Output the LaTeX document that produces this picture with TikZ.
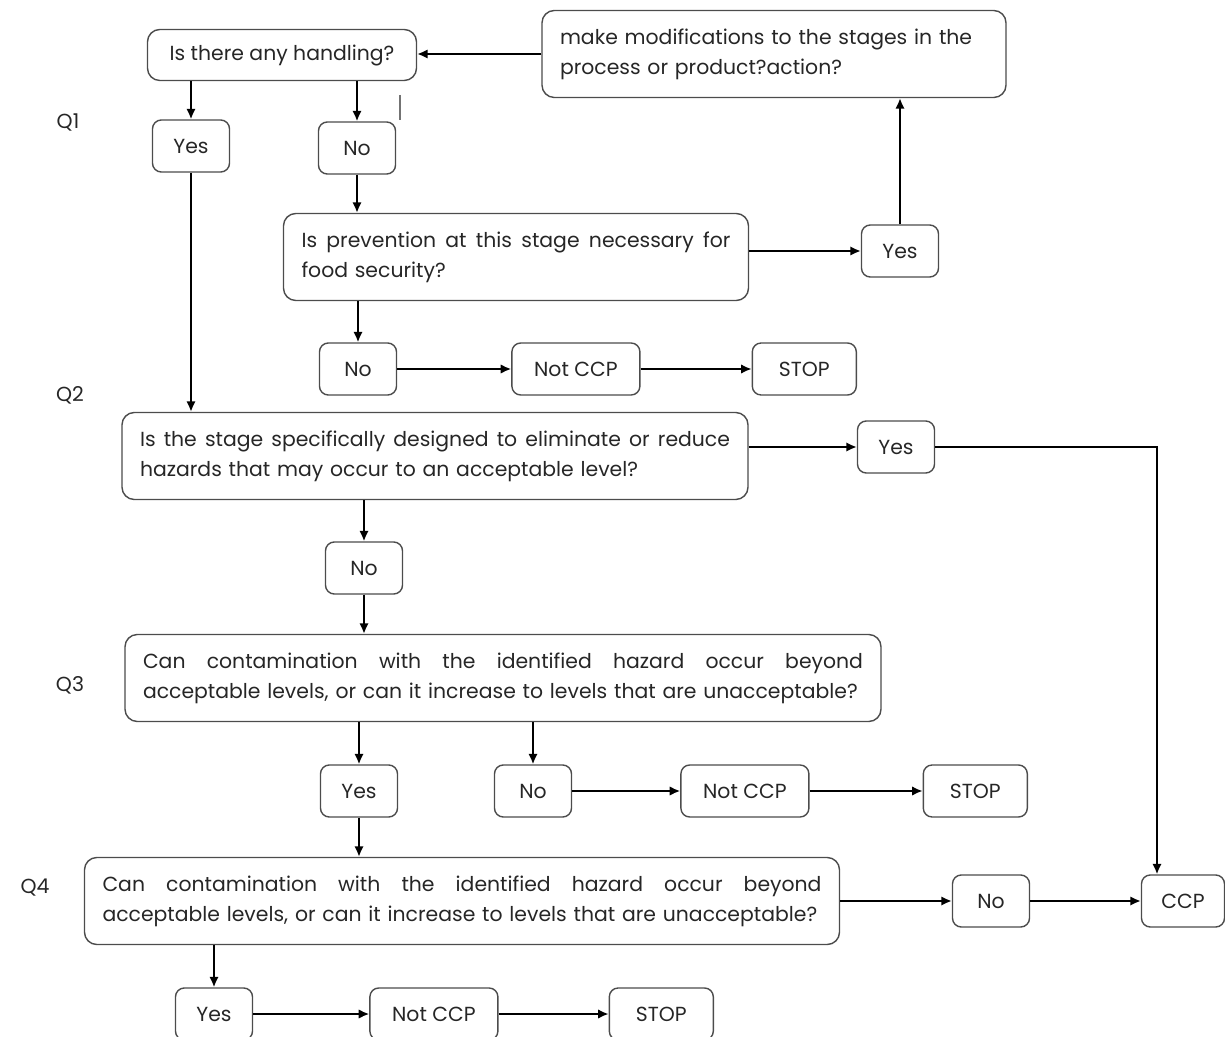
\documentclass[tikz,border=0pt]{standalone}
\usepackage{fontspec}
\setmainfont{Poppins}
\usetikzlibrary{positioning, arrows.meta}
\newlength{\px}
\setlength{\px}{0.02cm}
\newcommand{\fullline}[2]{\makebox[#1][s]{\spaceskip=0.3em plus 1fil minus 0.1em\relax #2}}

\begin{document}
\begin{tikzpicture}[
        x=0.02cm, y=-0.02cm,
        font=\fontsize{11.6}{17}\selectfont,
        question/.style={rectangle, draw=black!70, line width=0.8pt, rounded corners=7pt, text=black!85, align=left, inner xsep=18\px, inner ysep=0pt, minimum height=87\px},
        answer/.style={rectangle, draw=black!70, line width=0.8pt, rounded corners=5pt, text=black!85, inner sep=0pt, minimum width=77\px, minimum height=52\px},
        link/.style={-{Latex[length=2.1mm, width=1.9mm]}, line width=1.1pt},
        qlabel/.style={text=black!85}
    ]
        \useasboundingbox (0,0) rectangle (1225,1037);

        \node[question, align=center, minimum width=269\px, minimum height=51\px] (handling) at (282,55) {Is there any handling?};
        \node[question, text width=428\px] (modify) at (774,54) {make modifications to the stages in the\\process or product?action?};
        \node[qlabel] (q1) at (68,122) {Q1};
        \node[answer] (yes1) at (191,146) {Yes};
        \node[answer] (no1) at (357,148) {No};
        \draw[black!55, line width=0.6pt] (400,95) -- (400,120);

        \node[question, text width=429\px] (prevent) at (516,257) {\fullline{429\px}{Is prevention at this stage necessary for}\\food security?};
        \node[answer] (yes2) at (900,251) {Yes};
        \node[answer] (no2) at (358,369) {No};
        \node[answer, minimum width=128\px, right=114\px of no2] (notccp1) {Not CCP};
        \node[answer, minimum width=104\px, right=111\px of notccp1] (stop1) {STOP};

        \node[qlabel] (q2) at (70,395) {Q2};
        \node[question, text width=590\px] (hazard) at (435,456) {\fullline{590\px}{Is the stage specifically designed to eliminate or reduce}\\hazards that may occur to an acceptable level?};
        \node[answer] (yes3) at (896,447) {Yes};
        \node[answer] (no3) at (364,568) {No};

        \node[qlabel] (q3) at (70,685) {Q3};
        \node[question, text width=720\px] (contam) at (503,678) {\fullline{720\px}{Can contamination with the identified hazard occur beyond}\\acceptable levels, or can it increase to levels that are unacceptable?};
        \node[answer] (yes4) at (359,791) {Yes};
        \node[answer] (no4) at (533,791) {No};
        \node[answer, minimum width=128\px, right=108\px of no4] (notccp2) {Not CCP};
        \node[answer, minimum width=104\px, right=113\px of notccp2] (stop2) {STOP};

        \node[qlabel] (q4) at (35,888) {Q4};
        \node[question, text width=719\px] (increase) at (462,901) {\fullline{719\px}{Can contamination with the identified hazard occur beyond}\\acceptable levels, or can it increase to levels that are unacceptable?};
        \node[answer] (no5) at (991,901) {No};
        \node[answer, minimum width=83\px] (ccp) at (1183,901) {CCP};
        \node[answer] (yes5) at (214,1014) {Yes};
        \node[answer, minimum width=128\px, right=116\px of yes5] (notccp3) {Not CCP};
        \node[answer, minimum width=104\px, right=110\px of notccp3] (stop3) {STOP};

        \draw[link] (modify.west) -- (handling.east |- modify.west);
        \draw[link] (yes1.north |- handling.south) -- (yes1.north);
        \draw[link] (no1.north |- handling.south) -- (no1.north);
        \draw[link] (no1.south) -- (no1.south |- prevent.north);
        \draw[link] (prevent.east |- yes2) -- (yes2.west);
        \draw[link] (yes2.north) -- (yes2.north |- modify.south);
        \draw[link] (no2.north |- prevent.south) -- (no2.north);
        \draw[link] (no2) -- (notccp1);
        \draw[link] (notccp1) -- (stop1);
        \draw[link] (yes1.south) -- (yes1.south |- hazard.north);
        \draw[link] (hazard.east |- yes3) -- (yes3.west);
        \draw[link] (yes3.east) -| ([xshift=-26\px]ccp.north);
        \draw[link] (no3.north |- hazard.south) -- (no3.north);
        \draw[link] (no3.south) -- (no3.south |- contam.north);
        \draw[link] (yes4.north |- contam.south) -- (yes4.north);
        \draw[link] (no4.north |- contam.south) -- (no4.north);
        \draw[link] (no4) -- (notccp2);
        \draw[link] (notccp2) -- (stop2);
        \draw[link] (yes4.south) -- (yes4.south |- increase.north);
        \draw[link] (increase.east |- no5) -- (no5.west);
        \draw[link] (no5) -- (ccp);
        \draw[link] (yes5.north |- increase.south) -- (yes5.north);
        \draw[link] (yes5) -- (notccp3);
        \draw[link] (notccp3) -- (stop3);
    \end{tikzpicture}
\end{document}
